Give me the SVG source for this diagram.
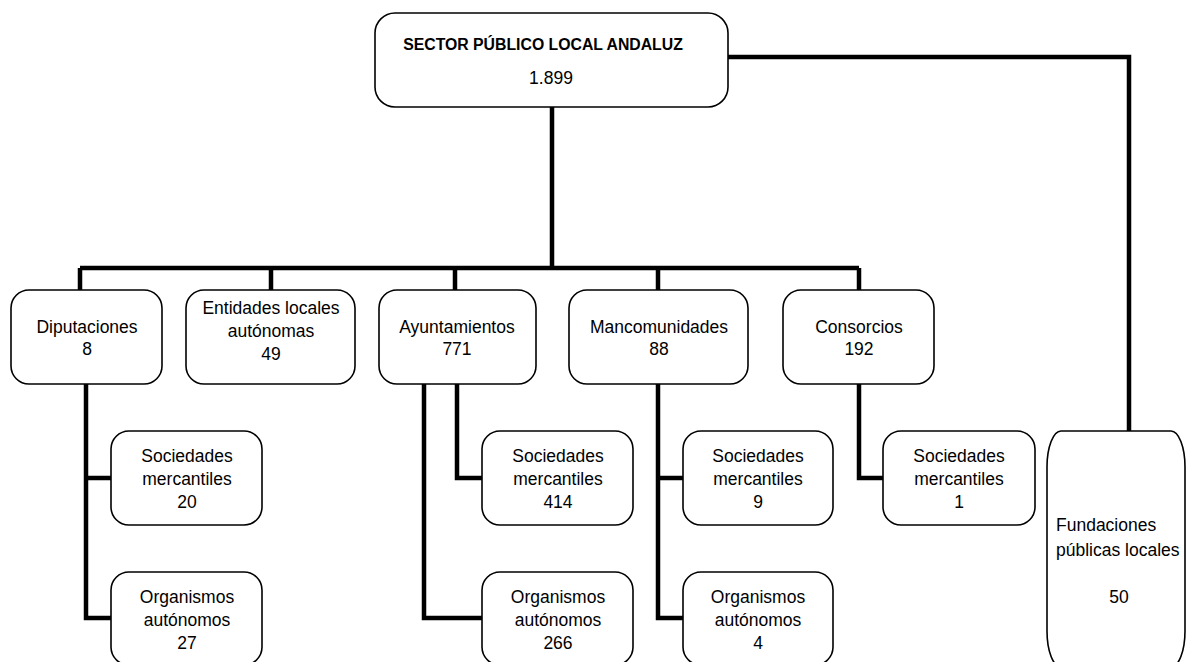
<svg xmlns="http://www.w3.org/2000/svg" width="1186" height="662" viewBox="0 0 1186 662">
<style>
.box{fill:#fff;stroke:#000;stroke-width:1.6}
.t{font-family:"Liberation Sans",Arial,sans-serif;font-size:17.5px;fill:#000;text-anchor:middle}
.b{font-weight:bold;font-size:15.8px}
.c{fill:none;stroke:#000;stroke-width:4.5;stroke-linejoin:miter}
</style>
<rect width="1186" height="662" fill="#fff"/>
<g id="connectors">
<path class="c" d="M552 107V268M80 268H859M80 268V290M271 268V290M455 268V290M658 268V290M859 268V290"/>
<path class="c" d="M728 57H1129V431"/>
<path class="c" d="M86 384V618H111M86 478H111"/>
<path class="c" d="M424 384V618H482M457 384V478H482"/>
<path class="c" d="M658 384V618H683M658 478H683"/>
<path class="c" d="M859 384V478H883"/>
</g>
<g id="root">
<rect class="box" x="375" y="13" width="353" height="94" rx="20"/>
<text class="t b" x="543" y="50">SECTOR PÚBLICO LOCAL ANDALUZ</text>
<text class="t" x="551" y="84">1.899</text>
</g>
<g id="diputaciones">
<rect class="box" x="11" y="290" width="151" height="94" rx="18"/>
<text class="t" x="87" y="333">Diputaciones</text>
<text class="t" x="87" y="355">8</text>
</g>
<g id="entidades">
<rect class="box" x="186" y="290" width="169" height="94" rx="18"/>
<text class="t" x="271" y="314">Entidades locales</text>
<text class="t" x="271" y="337">autónomas</text>
<text class="t" x="271" y="360">49</text>
</g>
<g id="ayuntamientos">
<rect class="box" x="379" y="290" width="157" height="94" rx="18"/>
<text class="t" x="457" y="333">Ayuntamientos</text>
<text class="t" x="457" y="355">771</text>
</g>
<g id="mancomunidades">
<rect class="box" x="569" y="290" width="179" height="94" rx="18"/>
<text class="t" x="659" y="333">Mancomunidades</text>
<text class="t" x="659" y="355">88</text>
</g>
<g id="consorcios">
<rect class="box" x="783" y="290" width="151" height="94" rx="18"/>
<text class="t" x="859" y="333">Consorcios</text>
<text class="t" x="859" y="355">192</text>
</g>
<g id="dip-soc">
<rect class="box" x="111" y="431" width="151" height="94" rx="18"/>
<text class="t" x="187" y="462">Sociedades</text>
<text class="t" x="187" y="485">mercantiles</text>
<text class="t" x="187" y="508">20</text>
</g>
<g id="dip-org">
<rect class="box" x="111" y="572" width="151" height="93" rx="18"/>
<text class="t" x="187" y="603">Organismos</text>
<text class="t" x="187" y="626">autónomos</text>
<text class="t" x="187" y="649">27</text>
</g>
<g id="ayu-soc">
<rect class="box" x="482" y="431" width="151" height="94" rx="18"/>
<text class="t" x="558" y="462">Sociedades</text>
<text class="t" x="558" y="485">mercantiles</text>
<text class="t" x="558" y="508">414</text>
</g>
<g id="ayu-org">
<rect class="box" x="482" y="572" width="151" height="93" rx="18"/>
<text class="t" x="558" y="603">Organismos</text>
<text class="t" x="558" y="626">autónomos</text>
<text class="t" x="558" y="649">266</text>
</g>
<g id="man-soc">
<rect class="box" x="683" y="431" width="150" height="94" rx="18"/>
<text class="t" x="758" y="462">Sociedades</text>
<text class="t" x="758" y="485">mercantiles</text>
<text class="t" x="758" y="508">9</text>
</g>
<g id="man-org">
<rect class="box" x="683" y="572" width="150" height="93" rx="18"/>
<text class="t" x="758" y="603">Organismos</text>
<text class="t" x="758" y="626">autónomos</text>
<text class="t" x="758" y="649">4</text>
</g>
<g id="con-soc">
<rect class="box" x="883" y="431" width="152" height="94" rx="18"/>
<text class="t" x="959" y="462">Sociedades</text>
<text class="t" x="959" y="485">mercantiles</text>
<text class="t" x="959" y="508">1</text>
</g>
<g id="fundaciones">
<rect class="box" x="1047" y="431" width="138" height="236" rx="14" ry="36"/>
<text class="t" x="1056" y="531" style="text-anchor:start">Fundaciones</text>
<text class="t" x="1056" y="556" style="text-anchor:start">públicas locales</text>
<text class="t" x="1119" y="603">50</text>
</g>
</svg>
